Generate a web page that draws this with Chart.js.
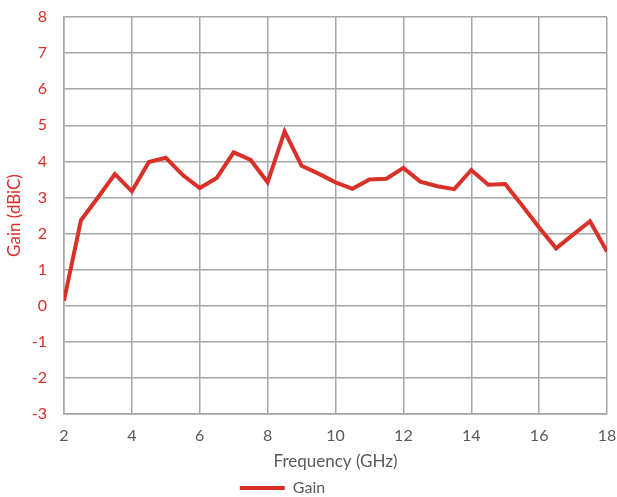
<!DOCTYPE html>
<html>
<head>
<meta charset="utf-8">
<script src="https://cdn.jsdelivr.net/npm/chart.js@4/dist/chart.umd.min.js"></script>
<style>
  html, body { margin: 0; padding: 0; background: #fff; }
  #wrap { width: 617px; height: 497px; }
</style>
</head>
<body>
<div id="wrap"><canvas id="graficaGanancia"></canvas></div>
<script>
// frecuencias (GHz) y ganancia (dBiC)
var frecuencias = [2, 2.5, 3, 3.5, 4, 4.5, 5, 5.5, 6, 6.5, 7, 7.5, 8, 8.5, 9, 9.5, 10,
    10.5, 11, 11.5, 12, 12.5, 13, 13.5, 14, 14.5, 15, 15.5, 16, 16.5, 17, 17.5, 18];
var ganancia = [0.14, 2.37, 3.0, 3.65, 3.17, 3.98, 4.1, 3.62, 3.26, 3.54, 4.25, 4.04, 3.42,
    4.83, 3.88, 3.66, 3.42, 3.24, 3.5, 3.52, 3.82, 3.44, 3.31, 3.23, 3.76, 3.35, 3.37,
    2.78, 2.17, 1.59, 1.97, 2.34, 1.5];
var ticksX = [2, 4, 6, 8, 10, 12, 14, 16, 18];
var ticksY = [-3, -2, -1, 0, 1, 2, 3, 4, 5, 6, 7, 8];

var rojo = '#d9302a';
var gris = '#595959';
var fuente = 'Lato, "Open Sans", sans-serif';

// leyenda mas baja y algo a la izquierda, como en el original
var leyendaCompacta = {
    id: 'leyendaCompacta',
    beforeLayout: function (chart) {
        var leg = chart.legend;
        if (leg && !leg._ajustada) {
            var fitOriginal = leg.fit;
            leg.fit = function () {
                fitOriginal.call(this);
                this.height = 18;
            };
            leg._ajustada = true;
        }
    },
    afterLayout: function (chart) {
        var leg = chart.legend;
        if (leg) {
            leg.left -= 26;
            leg.right -= 26;
        }
    }
};

document.addEventListener('DOMContentLoaded', function () {
    var puntos = frecuencias.map(function (f, i) { return { x: f, y: ganancia[i] }; });
    var ctx = document.getElementById('graficaGanancia').getContext('2d');
    new Chart(ctx, {
        type: 'line',
        data: {
            datasets: [{
                label: 'Gain',
                data: puntos,
                borderColor: rojo,
                backgroundColor: rojo,
                borderWidth: 4,
                pointRadius: 0,
                pointStyle: 'line',
                tension: 0
            }]
        },
        options: {
            responsive: true,
            maintainAspectRatio: false,
            animation: false,
            layout: { padding: 0 },
            plugins: {
                legend: {
                    position: 'bottom',
                    labels: {
                        usePointStyle: true,
                        pointStyle: 'line',
                        pointStyleWidth: 45,
                        boxHeight: 16,
                        color: gris,
                        font: { family: fuente, size: 16 },
                        padding: 1
                    }
                },
                tooltip: { enabled: false }
            },
            scales: {
                x: {
                    type: 'linear',
                    min: 2,
                    max: 18,
                    afterBuildTicks: function (s) { s.ticks = ticksX.map(function (v) { return { value: v }; }); },
                    afterFit: function (s) {
                        s.height = 65;
                        s.paddingLeft = 0;
                        s.paddingRight = 10;
                    },
                    grid: { color: '#a6a6a6', lineWidth: 1.5, drawTicks: false },
                    border: { color: '#a6a6a6', width: 1.5 },
                    ticks: { color: gris, font: { family: fuente, size: 16 }, padding: 12, maxRotation: 0 },
                    title: { display: true, text: 'Frequency (GHz)', color: gris, font: { family: fuente, size: 17 }, padding: { top: 0, bottom: 7 } }
                },
                y: {
                    min: -3,
                    max: 8,
                    afterBuildTicks: function (s) { s.ticks = ticksY.map(function (v) { return { value: v }; }); },
                    afterFit: function (s) {
                        s.width = 64;
                        s.paddingTop = 17;
                        s.paddingBottom = 0;
                    },
                    grid: { color: '#a6a6a6', lineWidth: 1.5, drawTicks: false },
                    border: { color: '#a6a6a6', width: 1.5 },
                    ticks: { color: rojo, font: { family: fuente, size: 16 }, padding: 17 },
                    title: { display: true, text: 'Gain (dBiC)', color: rojo, font: { family: fuente, size: 17 }, padding: { top: 4, bottom: 0 } }
                }
            }
        },
        plugins: [leyendaCompacta]
    });
});
</script>
</body>
</html>
